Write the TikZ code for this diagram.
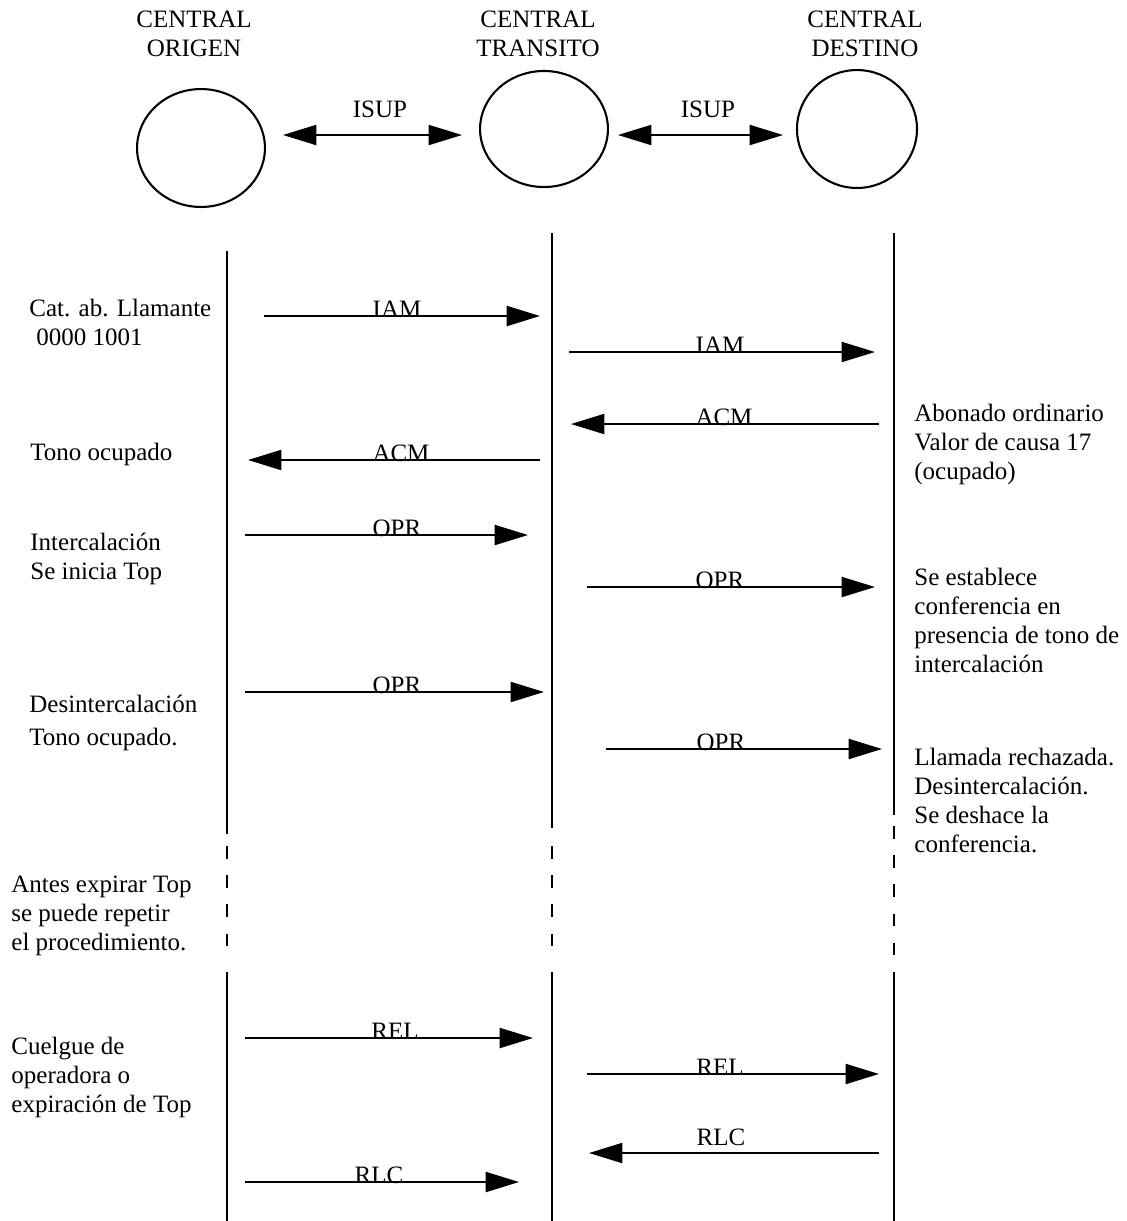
\documentclass[tikz,border=0pt]{standalone}
\usepackage{fontspec}
\setmainfont{Liberation Serif}
\usetikzlibrary{arrows.meta,shapes.geometric}

\tikzset{
  msg/.style={line width=1pt, -{Triangle[length=16pt,width=9.6pt]}},
  isup/.style={line width=1pt, {Triangle[length=16pt,width=9.6pt]}-{Triangle[length=16pt,width=9.6pt]}},
  life/.style={line width=1pt},
  gap/.style={line width=0.5pt, dash pattern=on 6pt off 8pt},
  nota/.style={align=left, inner sep=0pt, anchor=base west, font=\fontsize{12}{13.8}\selectfont},
  etiq/.style={inner sep=0pt, anchor=base, font=\fontsize{12}{13.8}\selectfont},
  central/.style={draw, ellipse, line width=1pt, inner sep=0pt},
}

\begin{document}
\begin{tikzpicture}[x=0.48pt, y=-0.48pt]
    \useasboundingbox (0,0) rectangle (1127,1221);

    % centrales (base = ultima linea)
    \node[etiq, align=center] (hO) at (194,56) {CENTRAL\\ORIGEN};
    \node[etiq, align=center] (hT) at (538,56) {CENTRAL\\TRANSITO};
    \node[etiq, align=center] (hD) at (865,56) {CENTRAL\\DESTINO};

    \node[central, minimum width=61.4pt, minimum height=56.6pt] (O) at (201,148) {};
    \node[central, minimum width=61.4pt, minimum height=55.7pt] (T) at (544,129) {};
    \node[central, minimum width=57.6pt, minimum height=56.6pt] (D) at (857,129) {};

    \coordinate (i1a) at (283,135);
    \coordinate (i1b) at (462,135);
    \coordinate (i2a) at (618,135);
    \coordinate (i2b) at (783,135);
    \node[etiq] (isup1) at (380,117) {ISUP};
    \node[etiq] (isup2) at (708,117) {ISUP};
    \draw[isup] (i1a) -- (i1b);
    \draw[isup] (i2a) -- (i2b);

    % lineas de tiempo
    \draw[life] (227,251) -- (227,834);
    \draw[life] (552,233) -- (552,828);
    \draw[life] (894,233) -- (894,815);
    \draw[gap] (227,846) -- (227,962);
    \draw[gap] (552,846) -- (552,962);
    \draw[gap] (894,826) -- (894,962);
    \draw[life] (227,972) -- (227,1221);
    \draw[life] (552,972) -- (552,1221);
    \draw[life] (894,972) -- (894,1221);

    % mensajes
    \coordinate (m1a) at (264,316);  \coordinate (m1b) at (540,316);
    \coordinate (m2a) at (569,352);  \coordinate (m2b) at (875,352);
    \coordinate (m3a) at (879,424);  \coordinate (m3b) at (571,424);
    \coordinate (m4a) at (540,460);  \coordinate (m4b) at (248,460);
    \coordinate (m5a) at (245,535);  \coordinate (m5b) at (528,535);
    \coordinate (m6a) at (587,587);  \coordinate (m6b) at (875,587);
    \coordinate (m7a) at (245,692);  \coordinate (m7b) at (544,692);
    \coordinate (m8a) at (606,749);  \coordinate (m8b) at (882,749);
    \coordinate (m9a) at (245,1038); \coordinate (m9b) at (533,1038);
    \coordinate (m10a) at (587,1074); \coordinate (m10b) at (879,1074);
    \coordinate (m11a) at (879,1153); \coordinate (m11b) at (589,1153);
    \coordinate (m12a) at (245,1182); \coordinate (m12b) at (519,1182);

    \node[etiq] (iam1) at (397,317) {IAM};
    \node[etiq] (iam2) at (720,353) {IAM};
    \node[etiq] (acm1) at (724,425) {ACM};
    \node[etiq] (acm2) at (401,461) {ACM};
    \node[etiq] (opr1) at (397,536) {OPR};
    \node[etiq] (opr2) at (720,588) {OPR};
    \node[etiq] (opr3) at (397,693) {OPR};
    \node[etiq] (opr4) at (721,750) {OPR};
    \node[etiq] (rel1) at (395,1039) {REL};
    \node[etiq] (rel2) at (720,1075) {REL};
    \node[etiq] (rlc1) at (721,1145) {RLC};
    \node[etiq] (rlc2) at (379,1183) {RLC};

    \draw[msg] (m1a) -- (m1b);
    \draw[msg] (m2a) -- (m2b);
    \draw[msg] (m3a) -- (m3b);
    \draw[msg] (m4a) -- (m4b);
    \draw[msg] (m5a) -- (m5b);
    \draw[msg] (m6a) -- (m6b);
    \draw[msg] (m7a) -- (m7b);
    \draw[msg] (m8a) -- (m8b);
    \draw[msg] (m9a) -- (m9b);
    \draw[msg] (m10a) -- (m10b);
    \draw[msg] (m11a) -- (m11b);
    \draw[msg] (m12a) -- (m12b);

    % notas (base = ultima linea)
    \node[nota] (n1) at (29,345) {Cat. ab. Llamante\\\hspace*{3.4pt}0000 1001};
    \node[nota] (n2) at (30,460) {Tono ocupado};
    \node[nota] (n3) at (30,579) {Intercalación\\Se inicia Top};
    \node[nota] (n4) at (29,745) {Desintercalación\\[2pt]Tono ocupado.};
    \node[nota] (n5) at (11,950) {Antes expirar Top\\se puede repetir\\el procedimiento.};
    \node[nota] (n6) at (11,1112) {Cuelgue de\\operadora o\\expiración de Top};
    \node[nota] (n7) at (914,479) {Abonado ordinario\\Valor de causa 17\\(ocupado)};
    \node[nota] (n8) at (914,672) {Se establece\\conferencia en\\presencia de tono de\\intercalación};
    \node[nota] (n9) at (914,852) {Llamada rechazada.\\Desintercalación.\\Se deshace la\\conferencia.};
\end{tikzpicture}
\end{document}
